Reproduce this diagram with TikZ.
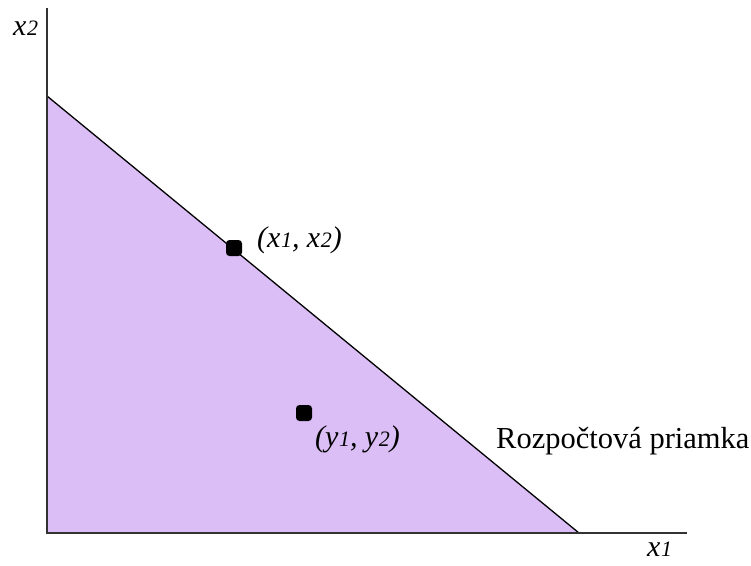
\documentclass[tikz,border=0pt]{standalone}
\usepackage{fontspec}
\setmainfont{Liberation Serif}
\definecolor{budget}{RGB}{220,190,246}
\newcommand{\vv}[2]{#1\kern0.5pt{\fontsize{22}{22}\selectfont #2}}
\begin{document}
\begin{tikzpicture}[x=1pt,y=-1pt,
  axis/.style={line width=2pt,draw=black!80},
  lbl/.style={font=\fontsize{30}{33}\selectfont\itshape, inner sep=0pt},
  dot/.style={fill=black, rounded corners=3.5pt, minimum size=16pt, inner sep=0pt, rectangle}]
\useasboundingbox (0,0) rectangle (751,565);
\fill[budget] (47,96) -- (47,533) -- (579,533) -- cycle;
\coordinate (top) at (47,96);
\coordinate (bot) at (579,533);
\coordinate (ytop) at (47,8);
\coordinate (orig) at (47,533);
\coordinate (xend) at (687,533);
\draw[line width=1.3pt] (top) -- (bot);
\draw[axis] (ytop) -- (orig) -- (xend);
\node[dot] (p1) at (234,248) {};
\node[dot] (p2) at (304,413) {};
\node[lbl, anchor=west] (l1) at (257,240) {(\vv{x}{1}, \vv{x}{2})};
\node[lbl, anchor=west] (l2) at (315,439) {(\vv{y}{1}, \vv{y}{2})};
\node[lbl, anchor=west] (lx2) at (13,28) {\vv{x}{2}};
\node[lbl, anchor=west] (lx1) at (647,549) {\vv{x}{1}};
\node[font=\fontsize{30.5}{34}\selectfont, inner sep=0pt, anchor=base west] (rp) at (496,448) {Rozpočtová priamka};
\end{tikzpicture}
\end{document}
